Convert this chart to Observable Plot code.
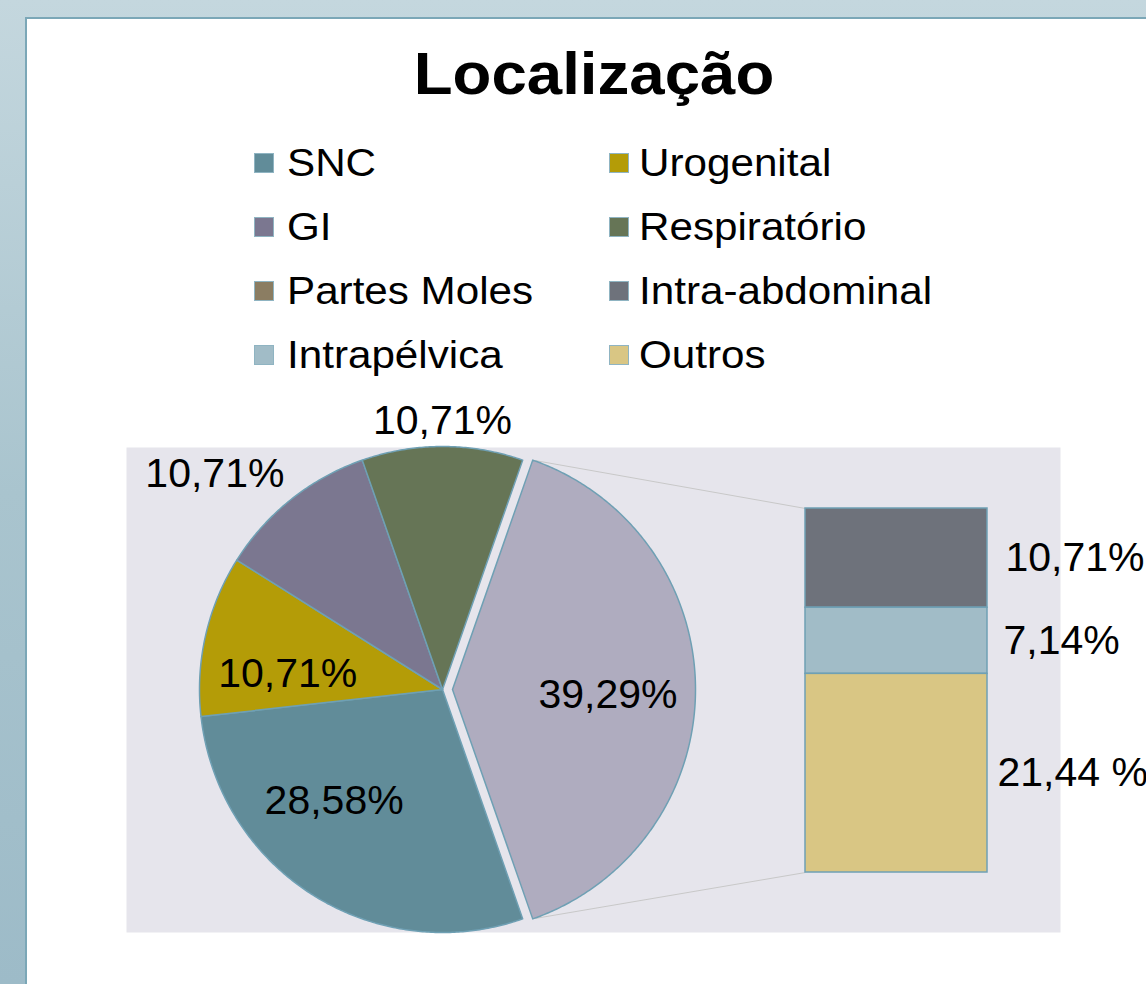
<!DOCTYPE html>
<html><head><meta charset="utf-8">
<script src="https://cdn.jsdelivr.net/npm/d3@7"></script>
<script src="https://cdn.jsdelivr.net/npm/@observablehq/plot@0.6"></script>
<style>
html,body{margin:0;padding:0;}
body{width:1146px;height:984px;overflow:hidden;position:relative;background:linear-gradient(180deg,#c4d7de 0%,#a9c4ce 50%,#9dbbc8 100%);font-family:"Liberation Sans",Arial,sans-serif;}
#panel{position:absolute;left:25px;top:17px;width:1140px;height:980px;background:#fff;border-left:2px solid #7ba7b7;border-top:2px solid #7ba7b7;}
#title{position:absolute;left:0;width:1188px;text-align:center;top:39px;font-size:60px;font-weight:bold;line-height:normal;color:#000;white-space:nowrap;transform:scaleX(1.06);transform-origin:594px 0;}
.lg{position:absolute;font-size:38px;line-height:normal;color:#000;white-space:nowrap;transform:scaleX(1.11);transform-origin:0 0;}
.sw{position:absolute;width:20px;height:20px;border:1px solid #8fb4c2;box-sizing:border-box;}
#chart{position:absolute;left:0;top:390px;}
</style>
</head><body>
<div id="panel"></div>
<div id="title">Localização</div>
<div id="legend"></div>
<div id="chart"></div>
<script>
// ---- data ----
const categories = ["SNC", "Urogenital", "GI", "Respiratório", "Partes Moles", "Intra-abdominal", "Intrapélvica", "Outros"];
const values = [28.58, 10.71, 10.71, 10.71, 0, 10.71, 7.14, 21.44];
const pieCategories = ["SNC", "Urogenital", "GI", "Respiratório", "Partes Moles"];
const barCategories = ["Intra-abdominal", "Intrapélvica", "Outros"];
const pieLabels = ["28,58%", "10,71%", "10,71%", "10,71%", ""];
const otherLabel = "39,29%";
const barLabels = ["10,71%", "7,14%", "21,44 %"];

// ---- styles ----
const colors = {
  "SNC": "#618c99", "Urogenital": "#b49c07", "GI": "#7b7790", "Respiratório": "#667556",
  "Partes Moles": "#8b7d62", "Intra-abdominal": "#6e727b", "Intrapélvica": "#a1bcc7", "Outros": "#d9c684"
};
const otherColor = "#afacbf";
const edge = "#6fa0b4";

// ---- layout ----
const cx = 442, cy = 689, R = 243, explode = 10;
const barX1 = 805, barX2 = 987, barTop = 508, barHeight = 364;
const barLabelNudge = [18, 16, 10];
// label placement: [radius factor, angle nudge in degrees]
const labelPlace = {"SNC": [0.64, 12], "Urogenital": [0.64, -7], "GI": [1.29, -8], "Respiratório": [1.107, 0]};

const val = Object.fromEntries(categories.map((c, i) => [c, values[i]]));
const otherValue = d3.sum(barCategories, c => val[c]);
const total = otherValue + d3.sum(pieCategories, c => val[c]);

// legend
const legend = document.getElementById("legend");
categories.forEach((c, i) => {
  const col = i % 2, row = Math.floor(i / 2);
  const base = 176 + row * 64;
  const sx = col ? 609 : 254, tx = col ? 639 : 287;
  const sw = document.createElement("div");
  sw.className = "sw"; sw.style.left = sx + "px"; sw.style.top = (base - 23) + "px"; sw.style.background = colors[c];
  legend.appendChild(sw);
  const t = document.createElement("div");
  t.className = "lg"; t.textContent = c; t.style.left = tx + "px"; t.style.top = (base - 34.4) + "px";
  legend.appendChild(t);
});

// pie
const pieItems = [{name: "__other", value: otherValue, color: otherColor}]
  .concat(pieCategories.map(c => ({name: c, value: val[c], color: colors[c]})));
const start = Math.PI / 2 - (otherValue / total) * Math.PI;
const arcs = d3.pie().sort(null).value(d => d.value).startAngle(start).endAngle(start + 2 * Math.PI)(pieItems);

const pt = (x0, y0, r, a) => ({x: x0 + r * Math.sin(a), y: y0 - r * Math.cos(a)});
const slicePts = [];
const labels = [];
let otherArc;
arcs.forEach(a => {
  if (a.data.value <= 0) return;
  const mid = (a.startAngle + a.endAngle) / 2;
  let ox = cx, oy = cy;
  if (a.data.name === "__other") { ox = cx + explode * Math.sin(mid); oy = cy - explode * Math.cos(mid); otherArc = {a, ox, oy}; }
  const n = Math.max(2, Math.ceil((a.endAngle - a.startAngle) / (Math.PI / 360)));
  slicePts.push({x: ox, y: oy, name: a.data.name, color: a.data.color});
  for (let k = 0; k <= n; k++) {
    const ang = a.startAngle + (a.endAngle - a.startAngle) * k / n;
    slicePts.push({...pt(ox, oy, R, ang), name: a.data.name, color: a.data.color});
  }
  slicePts.push({x: ox, y: oy, name: a.data.name, color: a.data.color});
  if (a.data.name === "__other") {
    labels.push({...pt(ox, oy, 0.64 * R, mid + 2 * Math.PI / 180), text: otherLabel});
  } else {
    const [rf, nud] = labelPlace[a.data.name];
    labels.push({...pt(cx, cy, rf * R, mid + nud * Math.PI / 180), text: pieLabels[pieCategories.indexOf(a.data.name)]});
  }
});

// bar of pie
const k = barHeight / otherValue;
let acc = barTop;
const barData = barCategories.map((c, i) => {
  const y1 = acc, y2 = acc + val[c] * k; acc = y2;
  return {name: c, y1, y2, color: colors[c], label: barLabels[i], ym: (y1 + y2) / 2, lx: barX2 + barLabelNudge[i]};
});

// connectors
const topPt = pt(otherArc.ox, otherArc.oy, R, otherArc.a.startAngle);
const botPt = pt(otherArc.ox, otherArc.oy, R, otherArc.a.endAngle);
const links = [
  {x1: topPt.x, y1: topPt.y, x2: barX1, y2: barData[0].y1},
  {x1: botPt.x, y1: botPt.y, x2: barX1, y2: barData[barData.length - 1].y2}
];

const font = "Liberation Sans, Arial, sans-serif";
const chart = Plot.plot({
  width: 1146, height: 594,
  marginLeft: 126, marginRight: 86, marginTop: 57, marginBottom: 52,
  x: {domain: [126, 1060], axis: null},
  y: {domain: [447, 932], reverse: true, axis: null},
  color: {type: "identity"},
  style: {background: "transparent", overflow: "visible", fontFamily: font},
  marks: [
    Plot.frame({fill: "#e6e5ec", stroke: null}),
    Plot.link(links, {x1: "x1", y1: "y1", x2: "x2", y2: "y2", stroke: "#c8c8c8", strokeWidth: 1}),
    Plot.line(slicePts, {x: "x", y: "y", z: "name", fill: "color", stroke: edge, strokeWidth: 1.5, curve: "linear", strokeLinejoin: "round"}),
    Plot.rect(barData, {x1: () => barX1, x2: () => barX2, y1: "y1", y2: "y2", fill: "color", stroke: edge, strokeWidth: 1.5}),
    Plot.text(labels, {x: "x", y: "y", text: "text", fontSize: 41, fill: "#000", fontFamily: font}),
    Plot.text(barData, {x: "lx", y: "ym", text: "label", fontSize: 41, fill: "#000", textAnchor: "start", fontFamily: font})
  ]
});
document.getElementById("chart").appendChild(chart);
</script>
</body></html>
